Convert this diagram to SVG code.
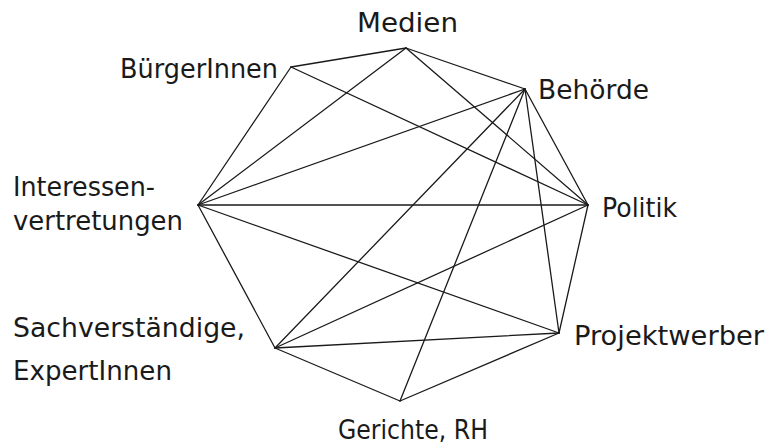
<svg xmlns="http://www.w3.org/2000/svg" width="768" height="447" viewBox="0 0 768 447">
<style>
.e{stroke:#1a1a1a;stroke-width:1.3;fill:none;stroke-linecap:round}
.t{font-family:"DejaVu Sans","Liberation Sans",sans-serif;font-size:26px;fill:#1a1a1a}
</style>
<rect width="768" height="447" fill="#fff"/>
<g id="connectors">
<line class="e" x1="406" y1="48" x2="291" y2="67"/>
<line class="e" x1="291" y1="67" x2="198" y2="205"/>
<line class="e" x1="198" y1="205" x2="275" y2="348"/>
<line class="e" x1="275" y1="348" x2="400" y2="401"/>
<line class="e" x1="400" y1="401" x2="559" y2="333"/>
<line class="e" x1="559" y1="333" x2="588" y2="205"/>
<line class="e" x1="588" y1="205" x2="525" y2="89"/>
<line class="e" x1="525" y1="89" x2="406" y2="48"/>
<line class="e" x1="291" y1="67" x2="588" y2="205"/>
<line class="e" x1="406" y1="48" x2="198" y2="205"/>
<line class="e" x1="406" y1="48" x2="588" y2="205"/>
<line class="e" x1="525" y1="89" x2="198" y2="205"/>
<line class="e" x1="525" y1="89" x2="275" y2="348"/>
<line class="e" x1="525" y1="89" x2="400" y2="401"/>
<line class="e" x1="525" y1="89" x2="559" y2="333"/>
<line class="e" x1="198" y1="205" x2="588" y2="205"/>
<line class="e" x1="198" y1="205" x2="559" y2="333"/>
<line class="e" x1="275" y1="348" x2="588" y2="205"/>
<line class="e" x1="275" y1="348" x2="559" y2="333"/>
</g>
<g id="medien"><text class="t" x="357" y="32" textLength="101" lengthAdjust="spacingAndGlyphs">Medien</text></g>
<g id="buergerinnen"><text class="t" x="120" y="78" textLength="158" lengthAdjust="spacingAndGlyphs">BürgerInnen</text></g>
<g id="behoerde"><text class="t" x="538" y="99" textLength="111" lengthAdjust="spacingAndGlyphs">Behörde</text></g>
<g id="interessenvertretungen">
<text class="t" x="13" y="196" textLength="142" lengthAdjust="spacingAndGlyphs">Interessen-</text>
<text class="t" x="13" y="230" textLength="170" lengthAdjust="spacingAndGlyphs">vertretungen</text>
</g>
<g id="politik"><text class="t" x="602" y="217" textLength="75" lengthAdjust="spacingAndGlyphs">Politik</text></g>
<g id="sachverstaendige">
<text class="t" x="13" y="337" textLength="232" lengthAdjust="spacingAndGlyphs">Sachverständige,</text>
<text class="t" x="13" y="380" textLength="159" lengthAdjust="spacingAndGlyphs">ExpertInnen</text>
</g>
<g id="projektwerber"><text class="t" x="574" y="345" textLength="190" lengthAdjust="spacingAndGlyphs">Projektwerber</text></g>
<g id="gerichte"><text class="t" x="338" y="439" textLength="150" lengthAdjust="spacingAndGlyphs">Gerichte, RH</text></g>
</svg>
